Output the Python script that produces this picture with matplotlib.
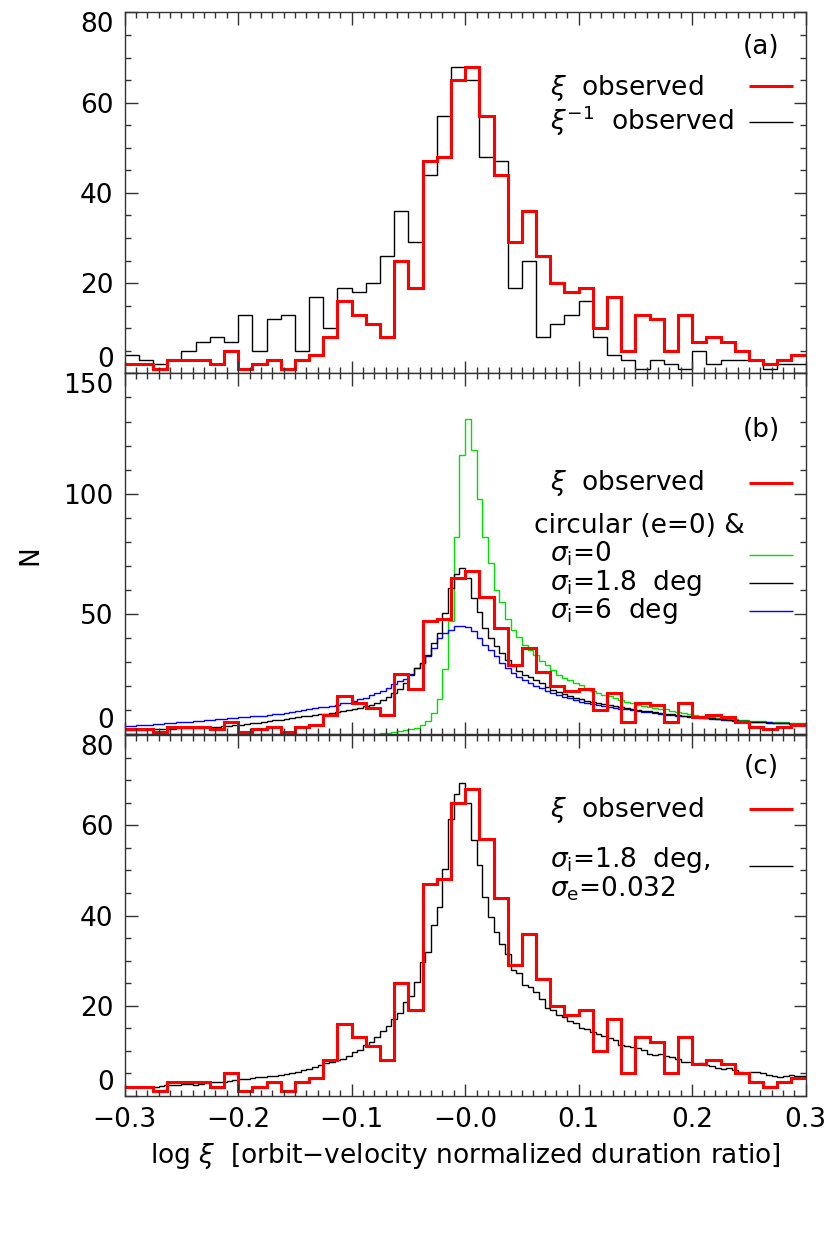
import numpy as np
import matplotlib.pyplot as plt
from matplotlib.ticker import MultipleLocator

plt.rcParams['font.family'] = 'DejaVu Sans'
plt.rcParams['mathtext.fontset'] = 'dejavusans'

# observed log(xi) histogram, 48 bins of 0.0125 between -0.3 and 0.3
xi_obs = [2, 2, 1, 3, 3, 3, 2, 5, 1, 2, 3, 1, 3, 4, 8, 16, 13, 11, 8, 25,
          19, 47, 48, 65, 68, 57, 44, 29, 36, 26, 20, 18, 19, 10, 17, 5, 13, 12, 5, 13,
          7, 8, 7, 5, 3, 2, 3, 4]
# xi^-1 observed (same sample, mirrored)
xi_inv_obs = [4, 3, 2, 3, 5, 7, 8, 7, 13, 5, 12, 13, 5, 17, 10, 19, 18, 20, 26, 36,
              29, 44, 57, 68, 65, 48, 47, 19, 25, 8, 11, 13, 16, 8, 4, 3, 1, 3, 2, 1,
              5, 2, 3, 3, 3, 1, 2, 2]

# model histograms, 120 bins of 0.005
circ_sig0 = [0] * 40 + [
    0.05, 0.1, 0.15, 0.2, 0.3, 0.4, 0.6, 0.9, 1.3, 1.8,
    2.3, 2.8, 3.9, 5.7, 8.7, 14.6, 27, 47, 82, 116,
    131, 118, 98, 82, 71, 60, 55, 48, 43.5, 40.4,
    37, 35, 33, 30.5, 28.9, 26.8, 24.7, 23.3, 22.6, 21.2,
    20.5, 19.2, 17.8, 17.1, 16.4, 15.7, 15.0, 14.3, 13.6, 12.9,
    12.2, 11.8, 11.5, 10.8, 10.6, 10.4, 9.8, 9.4, 8.7, 8.4,
    8.1, 7.6, 7.3, 7.1, 6.9, 6.7, 6.4, 6.2, 6.0, 5.9,
    5.7, 5.6, 5.5, 5.3, 5.2, 5.0, 4.9, 4.8, 4.7, 4.6]

circ_sig18 = [
    1.8, 1.8, 1.9, 1.9, 2.0, 2.0, 2.1, 2.2, 2.3, 2.4,
    2.5, 2.6, 2.7, 2.8, 2.9, 3.0, 3.2, 3.4, 3.6, 3.8,
    4.0, 4.2, 4.5, 4.8, 5.1, 5.4, 5.8, 6.1, 6.5, 6.8,
    7.1, 7.4, 7.7, 8.0, 8.3, 8.6, 9.0, 9.3, 9.7, 10.1,
    10.5, 11.0, 11.6, 12.3, 13.2, 14.2, 15.5, 17.0, 18.8, 21.2,
    24.7, 27.5, 29.6, 33, 38, 42, 50.4, 60.8, 66.8, 69.2,
    65, 56.7, 51, 44.2, 40, 36.5, 33.8, 31, 28.2, 26.1,
    24.7, 24.0, 22.6, 21.2, 19.5, 18.5, 17.6, 16.8, 16.0, 15.2,
    14.6, 14.0, 13.4, 12.9, 12.4, 12.0, 11.6, 11.2, 10.8, 10.5,
    10.1, 9.8, 9.5, 9.2, 8.9, 8.6, 8.4, 8.1, 7.8, 7.6,
    7.3, 7.1, 6.9, 6.6, 6.4, 6.2, 6.0, 5.8, 5.6, 5.5,
    5.3, 5.1, 5.0, 4.8, 4.7, 4.6, 4.5, 4.4, 4.3, 4.2]

circ_sig6 = [
    3.5, 3.6, 3.7, 3.8, 4.0, 4.2, 4.3, 4.5, 4.7, 4.9,
    5.2, 5.3, 5.4, 5.6, 5.8, 6.0, 6.2, 6.4, 6.6, 6.8,
    7.0, 7.2, 7.4, 7.6, 7.8, 8.0, 8.3, 8.6, 9.0, 9.4,
    9.8, 10.1, 10.5, 10.8, 11.2, 11.5, 11.9, 12.3, 12.8, 13.2,
    13.7, 14.5, 15.2, 16.2, 17.2, 18.0, 19.4, 21.0, 22.0, 23.0,
    25, 27.5, 29.6, 32.4, 35.8, 40, 42, 43.5, 45, 44.8,
    44.6, 42.8, 40, 37.2, 35.1, 32.4, 29.6, 27.5, 25.4, 24,
    22.6, 21.2, 20.1, 19.2, 17.8, 17.1, 16.4, 15.6, 14.9, 14.2,
    13.6, 13.1, 12.6, 12.2, 11.8, 11.4, 11.0, 10.6, 10.3, 10.0,
    9.7, 9.4, 9.1, 8.8, 8.5, 8.2, 8.0, 7.7, 7.5, 7.3,
    7.1, 6.9, 6.7, 6.5, 6.3, 6.1, 5.9, 5.7, 5.6, 5.4,
    5.3, 5.1, 5.0, 4.9, 4.7, 4.6, 4.5, 4.4, 4.3, 4.2]

ecc_sig18 = [
    1.9, 1.9, 1.9, 2.0, 2.0, 2.1, 2.3, 2.4, 2.5, 2.5,
    2.6, 2.6, 2.5, 2.7, 2.8, 3.0, 3.1, 3.2, 3.3, 3.5,
    3.7, 3.8, 3.9, 4.1, 4.2, 4.4, 4.5, 4.7, 4.9, 5.1,
    5.4, 5.7, 6.0, 6.4, 6.8, 7.3, 7.6, 8.0, 8.3, 8.9,
    9.8, 10.3, 11.3, 12.0, 13.0, 14.5, 15.5, 17.0, 18.5, 20.9,
    22.1, 25.3, 29.8, 32, 37.9, 41.9, 50.4, 61.3, 67, 69.4,
    65, 56.7, 51.2, 44.1, 39.7, 36.4, 33.8, 31.4, 28, 27.2,
    24.6, 24.2, 23.1, 21.6, 19.6, 19.0, 17.9, 17.4, 16.7, 16.1,
    15.0, 14.8, 14.2, 13.7, 13.3, 12.8, 12.4, 11.3, 11.1, 10.9,
    10.6, 10.2, 9.3, 9.1, 9.3, 8.9, 8.6, 8.3, 7.6, 7.5,
    7.2, 7.4, 6.9, 6.6, 6.1, 5.9, 6.1, 5.8, 5.4, 5.2,
    5.4, 5.4, 5.0, 4.7, 4.4, 4.1, 4.4, 4.7, 4.5, 4.4]

x_ticks = [-0.3, -0.2, -0.1, 0.0, 0.1, 0.2, 0.3]
x_ticklabels = ['\u22120.3', '\u22120.2', '\u22120.1', '\u22120.0', '0.1', '0.2', '0.3']
y_ticks_a = [0, 20, 40, 60, 80]
y_ticks_b = [0, 50, 100, 150]
y_ticks_c = [0, 20, 40, 60, 80]

edges_obs = np.linspace(-0.3, 0.3, len(xi_obs) + 1)
edges_mod = np.linspace(-0.3, 0.3, len(circ_sig18) + 1)

RED = '#ff0000'
GREEN = '#00e000'
BLUE = '#0000ff'
FS = 19


def style_axis(ax, yticks, ymin):
    ax.set_xlim(-0.3, 0.3)
    ax.set_ylim(yticks[0], yticks[-1])
    ax.set_xticks(x_ticks)
    ax.xaxis.set_minor_locator(MultipleLocator(0.01))
    ax.set_yticks(yticks)
    ax.set_yticklabels([str(t) for t in yticks])
    ax.yaxis.set_minor_locator(MultipleLocator(ymin))
    ax.tick_params(which='both', direction='in', top=True, right=True,
                   labelsize=FS, width=1.0, color='#333333')
    ax.tick_params(which='major', length=9, pad=8)
    ax.tick_params(which='minor', length=4.5)
    for s in ax.spines.values():
        s.set_linewidth(1.0)
        s.set_color('#333333')
    # IDL style: end labels pushed inside the panel
    labs = ax.get_yticklabels()
    labs[0].set_verticalalignment('bottom')
    labs[-1].set_verticalalignment('top')


def legend_line(ax, y, color, lw):
    ax.plot([0.917, 0.981], [y, y], transform=ax.transAxes, color=color, lw=lw,
            solid_capstyle='butt')


def label(ax, x, y, s):
    ax.text(x, y, s, transform=ax.transAxes, fontsize=FS, va='baseline')


fig = plt.figure(figsize=(8.3, 12.46), dpi=100)
L, W, H = 0.1502, 0.8205, 0.2896
ax1 = fig.add_axes([L, 0.7004, W, H])
ax2 = fig.add_axes([L, 0.4107, W, H])
ax3 = fig.add_axes([L, 0.1204, W, H])

# (a)
ax1.stairs(xi_inv_obs, edges_obs, baseline=None, color='black', lw=1.0)
ax1.stairs(xi_obs, edges_obs, baseline=None, color=RED, lw=2.2)
style_axis(ax1, y_ticks_a, 5)
ax1.set_xticklabels([])
ax1.text(0.935, 0.904, '(a)', transform=ax1.transAxes, fontsize=FS, ha='center', va='center')
label(ax1, 0.625, 0.772, r'$\xi$  observed')
label(ax1, 0.625, 0.675, r'$\xi^{-1}$  observed')
legend_line(ax1, 0.797, RED, 2.2)
legend_line(ax1, 0.697, 'black', 1.0)

# (b)
ax2.stairs(circ_sig0, edges_mod, baseline=None, color=GREEN, lw=1.0)
ax2.stairs(circ_sig6, edges_mod, baseline=None, color=BLUE, lw=1.0)
ax2.stairs(circ_sig18, edges_mod, baseline=None, color='black', lw=1.0)
ax2.stairs(xi_obs, edges_obs, baseline=None, color=RED, lw=2.2)
style_axis(ax2, y_ticks_b, 10)
ax2.set_xticklabels([])
ax2.text(0.935, 0.843, '(b)', transform=ax2.transAxes, fontsize=FS, ha='center', va='center')
label(ax2, 0.625, 0.677, r'$\xi$  observed')
label(ax2, 0.601, 0.557, 'circular (e=0) &')
label(ax2, 0.625, 0.478, r'$\sigma_{\rm i}$=0')
label(ax2, 0.625, 0.400, r'$\sigma_{\rm i}$=1.8  deg')
label(ax2, 0.625, 0.321, r'$\sigma_{\rm i}$=6  deg')
legend_line(ax2, 0.696, RED, 2.2)
legend_line(ax2, 0.497, GREEN, 1.0)
legend_line(ax2, 0.419, 'black', 1.0)
legend_line(ax2, 0.341, BLUE, 1.0)

# (c)
ax3.stairs(ecc_sig18, edges_mod, baseline=None, color='black', lw=1.0)
ax3.stairs(xi_obs, edges_obs, baseline=None, color=RED, lw=2.2)
style_axis(ax3, y_ticks_c, 5)
ax3.set_xticklabels(x_ticklabels)
ax3.text(0.935, 0.911, '(c)', transform=ax3.transAxes, fontsize=FS, ha='center', va='center')
label(ax3, 0.625, 0.772, r'$\xi$  observed')
label(ax3, 0.625, 0.635, r'$\sigma_{\rm i}$=1.8  deg,')
label(ax3, 0.625, 0.552, r'$\sigma_{\rm e}$=0.032')
legend_line(ax3, 0.795, RED, 2.2)
legend_line(ax3, 0.637, 'black', 1.0)
ax3.set_xlabel(r'log $\xi$  [orbit$-$velocity normalized duration ratio]', fontsize=FS, labelpad=6)

fig.text(0.036, 1 - 555 / 1246, 'N', rotation=90, fontsize=FS, ha='center', va='center')

fig.savefig('out.png', dpi=100)
